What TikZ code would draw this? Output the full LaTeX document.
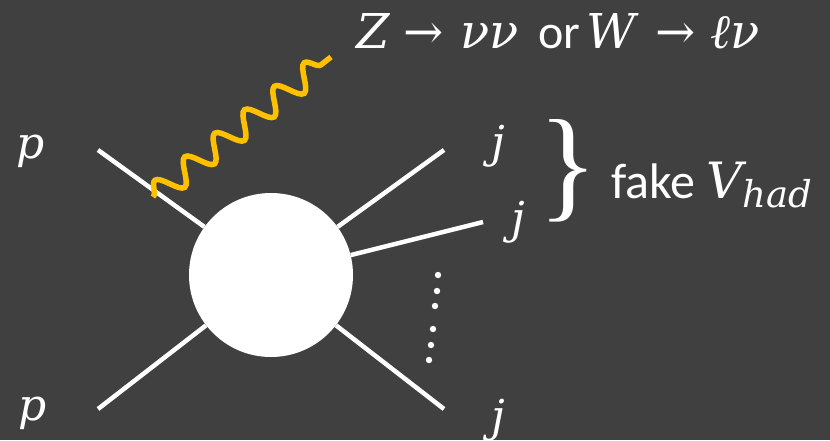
\documentclass[tikz,border=0pt]{standalone}
\usepackage{fontspec}
\setmainfont{Carlito}
\newfontfamily\mf{DejaVu Serif}
\newfontfamily\brf{Liberation Serif}
\usetikzlibrary{decorations.pathmorphing}
\definecolor{bg}{HTML}{404040}
\definecolor{gold}{HTML}{FFC000}
\newcommand{\mi}[1]{{\mf\itshape #1}}
\newcommand{\mr}[1]{{\mf #1}}
\newcommand{\myell}{{\brf\itshape ℓ}}
\begin{document}
\begin{tikzpicture}[x=1pt,y=-1pt,
  leg/.style={white,line width=4.5pt},
  lbl/.style={text=white,font=\fontsize{44}{48}\selectfont,inner sep=0pt,anchor=base}]
\fill[bg] (0,0) rectangle (830,440);
\useasboundingbox (0,0) rectangle (830,440);
\node[circle,fill=white,minimum size=164pt,inner sep=0pt] (blob) at (271,275) {};
\coordinate (a1) at (98,150);
\coordinate (a2) at (98,409);
\coordinate (b1) at (444,150);
\coordinate (b2) at (483,222);
\coordinate (b3) at (444,409);
\draw[leg] (a1) -- (blob);
\draw[leg] (a2) -- (blob);
\draw[leg] (b1) -- (blob);
\draw[leg] (b2) -- (blob);
\draw[leg] (b3) -- (blob);
\coordinate (w1) at (153,197);
\coordinate (w2) at (331,57);
\draw[gold,line width=5.5pt,decorate,decoration={snake,segment length=38pt,amplitude=12pt}] (w1) -- (w2);
\foreach \x/\y in {438/275,437/291,435/306,433/329,431/345,429/360}
  \fill[white] (\x,\y) circle (3.2pt);
\node[lbl] (p1) at (31,158) {\mi{p}};
\node[lbl] (p2) at (33,420) {\mi{p}};
\node[lbl] (j1) at (498,157) {\mi{j}};
\node[lbl] (j2) at (518,233) {\mi{j}};
\node[lbl] (j3) at (498,431) {\mi{j}};
\node[lbl,anchor=base west,font=\fontsize{48}{52}\selectfont] (top) at (356,48) {\makebox[47pt][l]{\mi{Z}}\makebox[57pt][l]{\mr{→}}\makebox[67pt][l]{\mi{νν}}\makebox[59pt][l]{ or}\makebox[69pt][l]{\mi{W}}\makebox[55pt][l]{\mr{→}}\myell\mi{ν}};
\node[text=white,inner sep=0pt] (br) at (568,171) {\resizebox{!}{86pt}{\brf\}}};
\node[lbl,anchor=base west] (fake) at (611,198) {\fontsize{50}{54}\selectfont fake \mi{V}{\fontsize{37}{40}\selectfont\raisebox{-9pt}{\mi{had}}}};
\end{tikzpicture}
\end{document}
